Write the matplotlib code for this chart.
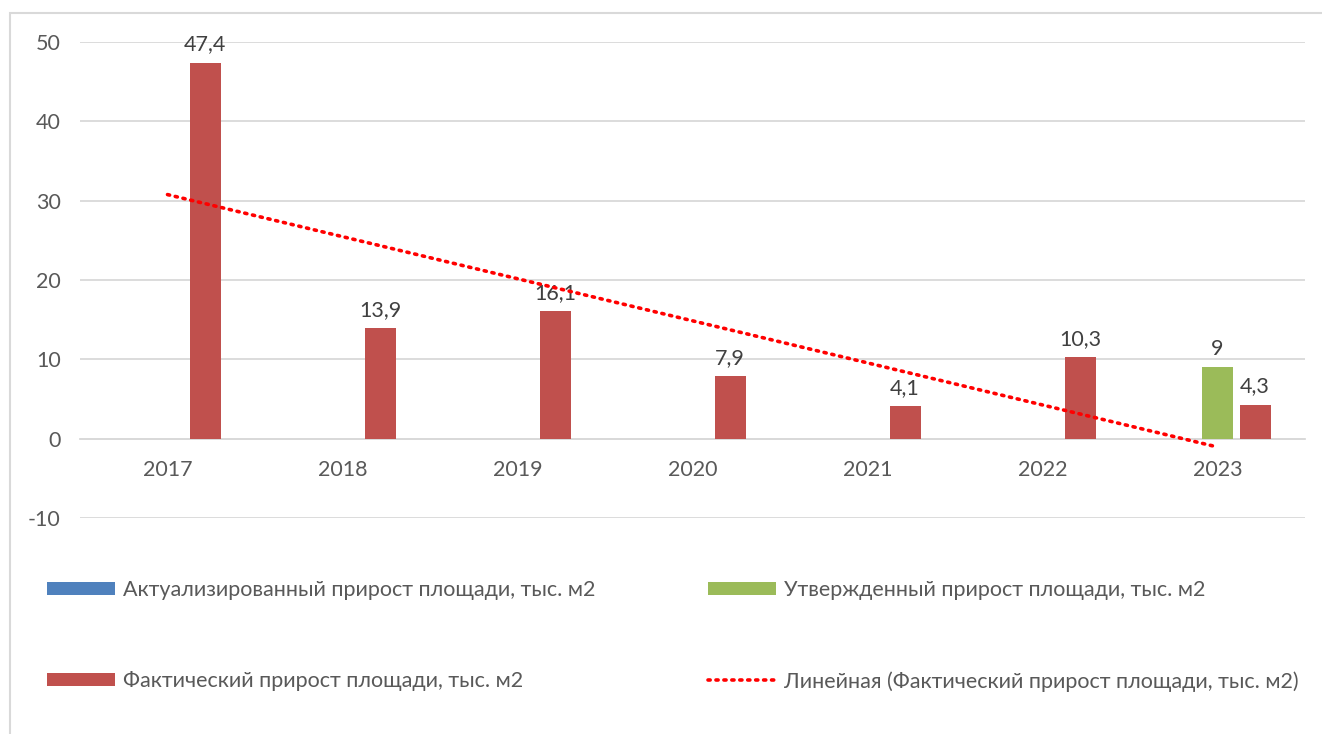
import numpy as np
import matplotlib
matplotlib.use("Agg")
import matplotlib.pyplot as plt
from matplotlib.patches import Rectangle

# === DATA ===
years = ["2017", "2018", "2019", "2020", "2021", "2022", "2023"]
actualized = [np.nan, np.nan, np.nan, np.nan, np.nan, np.nan, np.nan]
approved = [np.nan, np.nan, np.nan, np.nan, np.nan, np.nan, 9]
actual = [47.4, 13.9, 16.1, 7.9, 4.1, 10.3, 4.3]

label_actualized = "Актуализированный прирост площади, тыс. м2"
label_approved = "Утвержденный прирост площади, тыс. м2"
label_actual = "Фактический прирост площади, тыс. м2"
label_trend = "Линейная (Фактический прирост площади, тыс. м2)"

# === STYLE ===
plt.rcParams['font.family'] = ['Lato', 'DejaVu Sans']
plt.rcParams['axes.unicode_minus'] = False
text_color = "#595959"
grid_color = "#d9d9d9"
colors = ["#4f81bd", "#9bbb59", "#c0504d"]
fs = 15.5

fig = plt.figure(figsize=(13.22, 7.34), dpi=100)
ax = fig.add_axes([80 / 1322, 1 - 518 / 734, 1225 / 1322, 476 / 734])

x = np.arange(len(years))
width = 0.178
offset = 0.215

series = [(actualized, label_actualized), (approved, label_approved), (actual, label_actual)]
for k, (vals, lab) in enumerate(series):
    pos = x + (k - 1) * offset
    ax.bar(pos, vals, width=width, color=colors[k], label=lab, zorder=3)
    for px, v in zip(pos, vals):
        if np.isnan(v):
            continue
        txt = f"{v:g}".replace(".", ",")
        ax.annotate(txt, (px, v), xytext=(0, 6), textcoords="offset points",
                    ha="center", va="bottom", fontsize=fs, color="#404040")

# linear trend of the actual series
coef = np.polyfit(x + 1, actual, 1)
trend = np.polyval(coef, x + 1)
ax.plot(x, trend, color="#ff0000", linewidth=2.6,
        linestyle=(0, (0.6, 1.6)), dash_capstyle="round", label=label_trend, zorder=4)

# axes
ax.set_xlim(-0.5, len(years) - 0.5)
ax.set_ylim(-10, 50)
ax.set_yticks(np.arange(-10, 51, 10))
ax.yaxis.grid(True, color=grid_color, linewidth=1.3, zorder=0)
ax.set_axisbelow(True)
for s in ["top", "right", "left"]:
    ax.spines[s].set_visible(False)
ax.spines["bottom"].set_position(("data", 0))
ax.spines["bottom"].set_color(grid_color)
ax.spines["bottom"].set_linewidth(1.3)
ax.spines["bottom"].set_zorder(1)
ax.set_xticks(x)
ax.set_xticklabels(years)
ax.tick_params(axis="x", length=0, pad=15, labelsize=fs, labelcolor=text_color)
ax.tick_params(axis="y", length=0, pad=14, labelsize=fs, labelcolor=text_color)

# legend below the plot
handles, labels = ax.get_legend_handles_labels()
order = [labels.index(label_actualized), labels.index(label_actual),
         labels.index(label_approved), labels.index(label_trend)]
fig.legend([handles[i] for i in order], [labels[i] for i in order],
           ncol=2, loc="upper left", bbox_to_anchor=(47 / 1322, 1 - 580 / 734),
           frameon=False, fontsize=fs, labelcolor=text_color,
           handlelength=3.15, handleheight=0.6, handletextpad=0.37, labelspacing=3.3,
           columnspacing=5.25, borderpad=0, borderaxespad=0)

# chart border
fig.patches.append(Rectangle((10 / 1322, -0.05), 1.2, 1 - 13 / 734 + 0.05,
                             transform=fig.transFigure, fill=False,
                             edgecolor=grid_color, linewidth=1.5))

fig.savefig("out.png", dpi=100)
